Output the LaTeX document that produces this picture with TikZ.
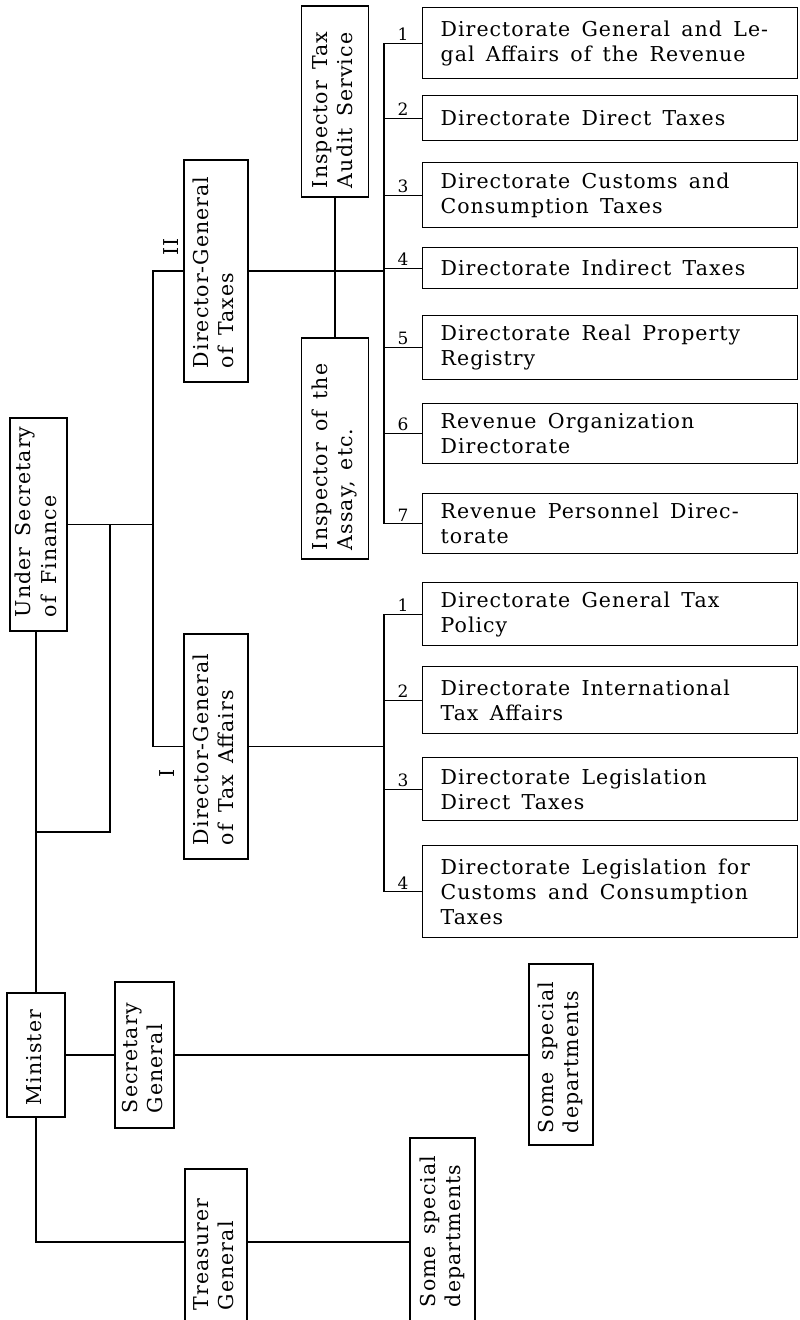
\documentclass[tikz,border=0pt]{standalone}
\usepackage{fontspec}
\setmainfont{DejaVu Serif}[LetterSpace=5,WordSpace=1.5]
\usepackage{graphicx}
\usepackage{tikz}
\usetikzlibrary{positioning,calc}
\newcommand{\chartfont}{\fontsize{20.5}{25}\selectfont}
\newcommand{\numfont}{\fontsize{17}{18}\selectfont}
\newcommand{\vtxt}[2]{\rotatebox{90}{\makebox[#1][l]{\begin{tabular}{@{}l@{}}#2\end{tabular}}}}
\tikzset{
  lin/.style={line width=1.3pt},
  hbox/.style={draw,lin,anchor=north west,inner xsep=18pt,inner ysep=0pt,text width=339pt,
               align=flush left,font=\chartfont},
  vbox/.style={draw,lin,inner sep=0pt,font=\chartfont},
  nr/.style={font=\numfont,above,inner sep=2pt},
  roman/.style={rotate=90,font=\chartfont,inner sep=1pt},
}

\begin{document}
\begin{tikzpicture}[x=1pt,y=-1pt]
  \path[use as bounding box,fill=white] (0,0) rectangle (800,1320);
  \clip (0,0) rectangle (800,1320);
  % vertical boxes
  \node[vbox,minimum width=57pt,minimum height=213pt] (us) at (38.5,524.5) {\vtxt{185pt}{Under Secretary\\of Finance}};
  \node[vbox,minimum width=64pt,minimum height=222pt] (dgt) at (216,271) {\vtxt{194pt}{Director-General\\of Taxes}};
  \node[vbox,minimum width=64pt,minimum height=225pt] (dgta) at (216,746.5) {\vtxt{197pt}{Director-General\\of Tax Affairs}};
  \node[vbox,minimum width=67pt,minimum height=191pt] (isp) at (335,101.5) {\vtxt{173pt}{Inspector Tax\\Audit Service}};
  \node[vbox,minimum width=67pt,minimum height=221pt] (asy) at (335,448.5) {\vtxt{203pt}{Inspector of the\\Assay, etc.}};
  \node[vbox,minimum width=58pt,minimum height=124pt] (min) at (36,1055) {\vtxt{100pt}{Minister}};
  \node[vbox,minimum width=59pt,minimum height=146pt] (sg) at (144.5,1055) {\vtxt{116pt}{Secretary\\General}};
  \node[vbox,minimum width=64pt,minimum height=181pt] (ssd1) at (561,1054.5) {\vtxt{157pt}{Some special\\departments}};
  \node[vbox,minimum width=62pt,minimum height=155pt] (tg) at (216,1246.5) {\vtxt{127pt}{Treasurer\\General}};
  \node[vbox,minimum width=65pt,minimum height=186pt] (ssd2) at (442.5,1231) {\vtxt{152pt}{Some special\\departments}};
  \node[roman] (nII) at (171,247) {II};
  \node[roman] (nI) at (167,773) {I};
  % directorates under II
  \node[hbox,minimum height=71pt] (d1) at (422,7) {Directorate General and Le-\\gal Affairs of the Revenue};
  \node[hbox,minimum height=45pt] (d2) at (422,95) {Directorate Direct Taxes};
  \node[hbox,minimum height=65pt] (d3) at (422,162) {Directorate Customs and\\Consumption Taxes};
  \node[hbox,minimum height=41pt] (d4) at (422,247) {Directorate Indirect Taxes};
  \node[hbox,minimum height=64pt] (d5) at (422,315) {Directorate Real Property\\Registry};
  \node[hbox,minimum height=60pt] (d6) at (422,403) {Revenue Organization\\Directorate};
  \node[hbox,minimum height=60pt] (d7) at (422,493) {Revenue Personnel Direc-\\torate};
  % directorates under I
  \node[hbox,minimum height=63pt] (e1) at (422,582) {Directorate General Tax\\Policy};
  \node[hbox,minimum height=67pt] (e2) at (422,666) {Directorate International\\Tax Affairs};
  \node[hbox,minimum height=63pt] (e3) at (422,757) {Directorate Legislation\\Direct Taxes};
  \node[hbox,minimum height=92pt] (e4) at (422,845) {Directorate Legislation for\\Customs and Consumption\\Taxes};
  \coordinate (bus) at (384,0);
  \coordinate (stem) at (153,0);
  \coordinate (loop) at (110,832);
  % connectors
  \foreach \i in {1,...,7}
    \draw[lin] (d\i.west) -- node[nr] {\i} (d\i.west -| bus);
  \foreach \i in {1,...,4}
    \draw[lin] (e\i.west) -- node[nr] {\i} (e\i.west -| bus);
  \draw[lin] (d1.west -| bus) -- (d7.west -| bus);
  \draw[lin] (e1.west -| bus) -- (e4.west -| bus);
  \draw[lin] (dgt.east) -- (dgt.east -| bus);
  \draw[lin] (dgta.east) -- (dgta.east -| bus);
  \draw[lin] (isp.south) -- (asy.north);
  \draw[lin] (dgt.west) -- (dgt.west -| stem) -- (dgta.west -| stem) -- (dgta.west);
  \draw[lin] (us.east) -- (us.east -| stem);
  \draw[lin] (min.north) -- (min.north |- us.south);
  \draw[lin] (min.north |- loop) -- (loop) -- (loop |- us.east);
  \draw[lin] (min.east) -- (sg.west);
  \draw[lin] (sg.east) -- (sg.east -| ssd1.west);
  \draw[lin] (min.south) |- ([yshift=4.5pt]tg.west);
  \draw[lin] ([yshift=4.5pt]tg.east) -- ([yshift=4.5pt]tg.east -| ssd2.west);
\end{tikzpicture}
\end{document}
